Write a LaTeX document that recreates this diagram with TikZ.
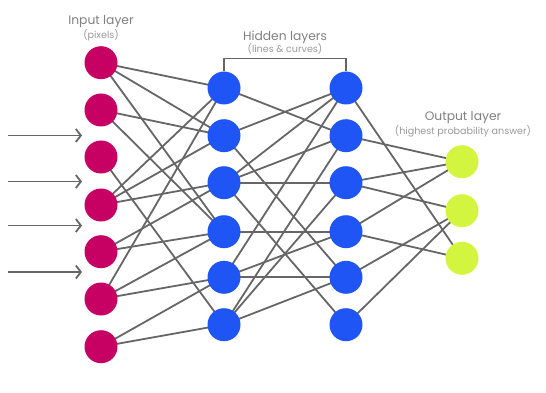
\documentclass[tikz,border=0pt]{standalone}
\usepackage{fontspec}
\setmainfont{Poppins}
\usetikzlibrary{arrows.meta}
\definecolor{inputc}{HTML}{C70063}
\definecolor{hiddenc}{HTML}{1F55F4}
\definecolor{outputc}{HTML}{D3F53F}
\definecolor{wire}{HTML}{666666}
\definecolor{labelc}{HTML}{808080}
\tikzset{
  neuron/.style={circle, minimum size=33pt, inner sep=0pt},
  innode/.style={neuron, fill=inputc},
  hidnode/.style={neuron, fill=hiddenc},
  outnode/.style={neuron, fill=outputc},
  link/.style={draw=wire, line width=1.8pt},
  feed/.style={draw=wire, line width=1.8pt, -{Straight Barb[length=5pt,width=13pt,line width=1.8pt]}},
  bracket/.style={draw=wire, line width=1.3pt},
  title/.style={text=labelc, font=\fontsize{12.3}{14}\selectfont, inner sep=0pt},
  subtitle/.style={text=labelc!80, font=\fontsize{9.6}{11}\selectfont, inner sep=0pt},
}
\begin{document}
\begin{tikzpicture}[x=1pt, y=-1pt]
\useasboundingbox (0,0) rectangle (546,393);

% input layer
\foreach \i/\y in {1/62.7,2/110,3/157,4/205,5/251.7,6/299,7/346.7}
  \coordinate (pi\i) at (101,\y);
% first hidden layer
\foreach \i/\y in {1/88,2/135.7,3/182.7,4/231.7,5/277.3,6/324.7}
  \coordinate (ph\i) at (224,\y);
% second hidden layer
\foreach \i/\y in {1/88,2/135.7,3/182.7,4/231.7,5/277.3,6/324.7}
  \coordinate (pg\i) at (346,\y);
% output layer
\foreach \i/\y in {1/161.7,2/210.7,3/258.3}
  \coordinate (po\i) at (462,\y);

% connections: input -> hidden 1
\foreach \a/\b in {1/1,1/2,1/4, 2/2,2/4, 3/6, 4/1,4/2,4/3, 5/3,5/4, 6/1,6/4,6/5, 7/5,7/6}
  \draw[link] (pi\a) -- (ph\b);
% connections: hidden 1 -> hidden 2
\foreach \a/\b in {1/2, 2/1,2/5, 3/1,3/2,3/3,3/6, 4/4, 5/1,5/4,5/5, 6/2,6/3,6/5}
  \draw[link] (ph\a) -- (pg\b);
% connections: hidden 2 -> output
\foreach \a/\b in {1/3, 2/1, 3/1,3/2, 4/1,4/3, 5/2, 6/2}
  \draw[link] (pg\a) -- (po\b);

% neurons, drawn over the connections
\foreach \i in {1,...,7} \node[innode] (i\i) at (pi\i) {};
\foreach \i in {1,...,6} \node[hidnode] (h\i) at (ph\i) {};
\foreach \i in {1,...,6} \node[hidnode] (g\i) at (pg\i) {};
\foreach \i in {1,...,3} \node[outnode] (o\i) at (po\i) {};

% incoming signals
\foreach \k/\y in {1/135.5,2/181.5,3/225.5,4/272}{
  \coordinate (s\k) at (8,\y);
  \coordinate (t\k) at (82,\y);
  \draw[feed] (s\k) -- (t\k);
}

% bracket over the hidden layers
\draw[bracket] (h1.north) -- ++(0,-13) -| (g1.north);

% labels
\node[title] (tin) at (101,22) {Input layer};
\node[subtitle] (sin) at (101,35) {(pixels)};
\node[title] (thid) at (285,37) {Hidden layers};
\node[subtitle] (shid) at (285,49) {(lines \& curves)};
\node[title] (tout) at (463,118) {Output layer};
\node[subtitle] (sout) at (463,131) {(highest probability answer)};
\end{tikzpicture}
\end{document}
